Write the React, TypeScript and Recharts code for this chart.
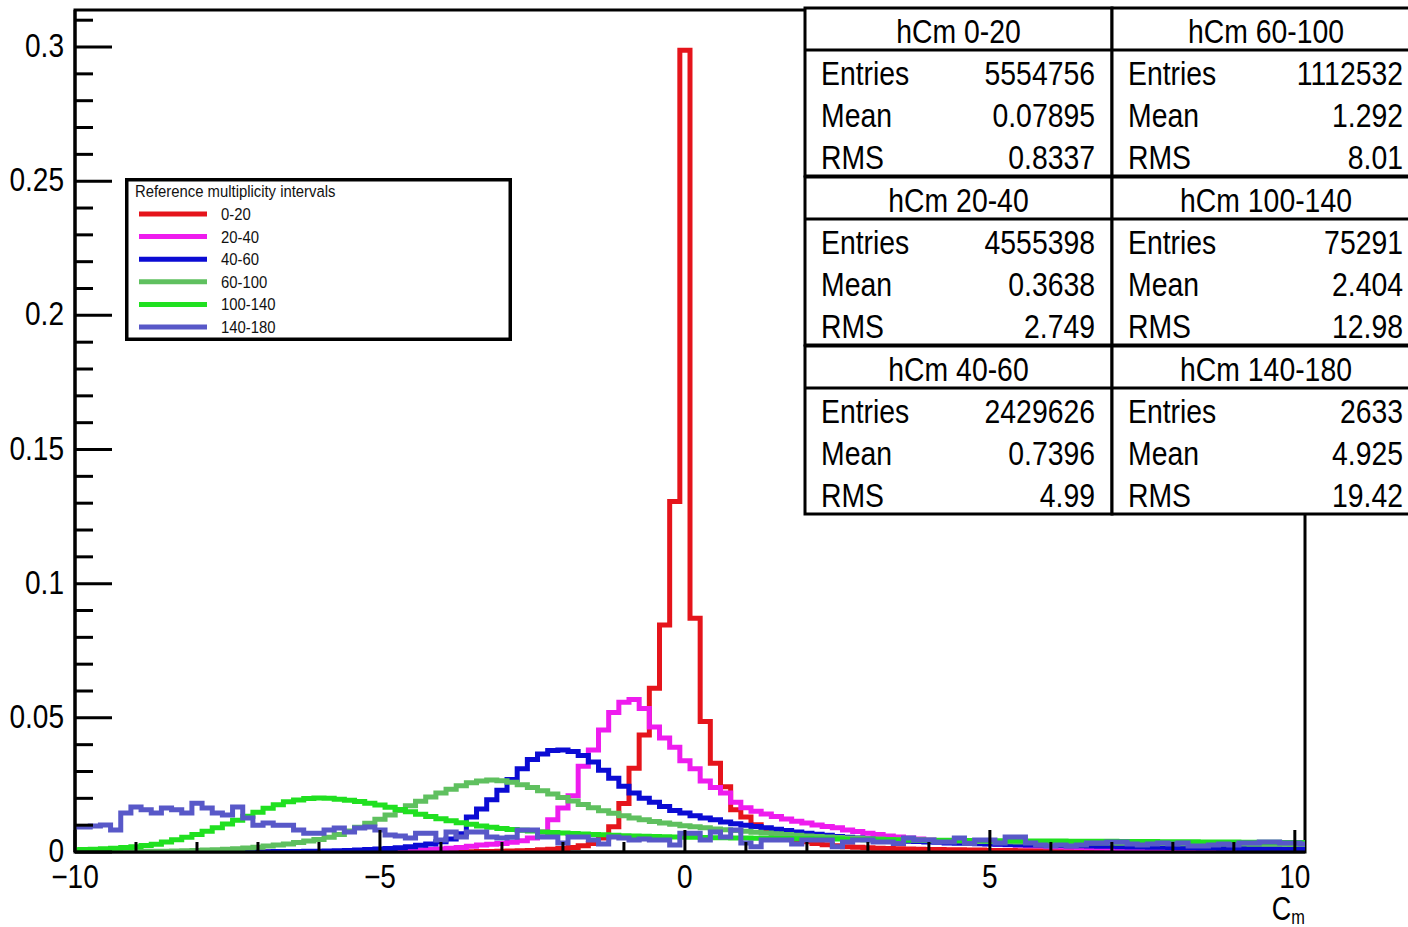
import { LineChart, Line, XAxis, YAxis, Legend, ReferenceArea, Label } from 'recharts';

// Cm distributions per reference multiplicity interval.
// One value per bin, bin width 1/6, first bin centred at -10.
const hCm0_20 = [
  0, 0, 0, 0, 0, 0, 0, 0, 0, 0,
  0, 0, 0, 0, 0, 0, 0, 0, 0, 0,
  0, 0, 0, 0, 0, 0, 0, 0, 0, 0,
  0, 0, 0, 0, 0, 0, 0, 0, 0, 0.0001,
  0.0002, 0.0002, 0.0003, 0.0004, 0.0005, 0.0006, 0.0008, 0.001, 0.0013, 0.0017,
  0.0023, 0.0032, 0.0052, 0.0094, 0.0181, 0.0312, 0.0436, 0.061, 0.0846, 0.1306,
  0.2988, 0.0871, 0.0486, 0.0331, 0.0243, 0.0157, 0.013, 0.0102, 0.0081, 0.0066,
  0.0054, 0.0045, 0.0038, 0.0032, 0.0027, 0.0023, 0.002, 0.0018, 0.0016, 0.0014,
  0.0013, 0.0012, 0.0011, 0.001, 0.0009, 0.0009, 0.0008, 0.0008, 0.0007, 0.0007,
  0.0006, 0.0006, 0.0006, 0.0005, 0.0005, 0.0005, 0.0005, 0.0004, 0.0004, 0.0004,
  0.0004, 0.0004, 0.0004, 0.0004, 0.0003, 0.0003, 0.0003, 0.0003, 0.0003, 0.0003,
  0.0003, 0.0003, 0.0003, 0.0003, 0.0002, 0.0002, 0.0002, 0.0002, 0.0002, 0.0002,
  0.0002, 0.0002,
];

const hCm20_40 = [
  0, 0, 0, 0, 0, 0, 0, 0, 0, 0,
  0, 0, 0, 0, 0, 0, 0, 0, 0, 0,
  0, 0, 0, 0, 0, 0, 0, 0, 0, 0.0001,
  0.0002, 0.0003, 0.0004, 0.0005, 0.0007, 0.0009, 0.0011, 0.0014, 0.0017, 0.0021,
  0.0026, 0.0029, 0.0032, 0.0036, 0.0042, 0.0052, 0.0075, 0.012, 0.0164, 0.021,
  0.032, 0.038, 0.0455, 0.052, 0.0558, 0.0568, 0.0535, 0.0466, 0.0425, 0.039,
  0.034, 0.031, 0.0265, 0.024, 0.022, 0.0185, 0.0165, 0.0152, 0.0142, 0.0132,
  0.0123, 0.0115, 0.0108, 0.0101, 0.0095, 0.009, 0.0082, 0.0076, 0.007, 0.0065,
  0.006, 0.0056, 0.0052, 0.0048, 0.0045, 0.0042, 0.004, 0.0037, 0.0035, 0.0033,
  0.0031, 0.0029, 0.0027, 0.0025, 0.0023, 0.0022, 0.002, 0.0019, 0.0018, 0.0017,
  0.0016, 0.0015, 0.0014, 0.0013, 0.0012, 0.0012, 0.0011, 0.001, 0.001, 0.0009,
  0.0009, 0.0008, 0.0008, 0.0007, 0.0007, 0.0007, 0.0006, 0.0006, 0.0006, 0.0005,
  0.0005, 0.0005,
];

const hCm40_60 = [
  0, 0, 0, 0, 0, 0, 0, 0, 0, 0,
  0, 0, 0, 0, 0, 0, 0, 0.0001, 0.0001, 0.0001,
  0.0002, 0.0002, 0.0002, 0.0003, 0.0003, 0.0004, 0.0005, 0.0006, 0.0007, 0.0009,
  0.0011, 0.0013, 0.0016, 0.002, 0.0025, 0.003, 0.0038, 0.0048, 0.0068, 0.013,
  0.016, 0.0195, 0.023, 0.027, 0.031, 0.0345, 0.0365, 0.0378, 0.038, 0.0375,
  0.036, 0.0335, 0.0305, 0.0275, 0.0245, 0.022, 0.02, 0.0185, 0.017, 0.0155,
  0.0145, 0.0135, 0.0127, 0.012, 0.0112, 0.0105, 0.01, 0.0095, 0.009, 0.0085,
  0.008, 0.0075, 0.007, 0.0066, 0.0062, 0.0058, 0.0055, 0.0052, 0.0049, 0.0046,
  0.0044, 0.0042, 0.004, 0.0039, 0.0037, 0.0036, 0.0034, 0.0033, 0.0032, 0.0031,
  0.003, 0.0029, 0.0028, 0.0027, 0.0026, 0.0026, 0.0025, 0.0024, 0.0023, 0.0023,
  0.0022, 0.0021, 0.0021, 0.002, 0.0019, 0.0019, 0.0018, 0.0018, 0.0017, 0.0016,
  0.0016, 0.0015, 0.0015, 0.0014, 0.0014, 0.0013, 0.0013, 0.0012, 0.0012, 0.0011,
  0.0011, 0.001,
];

const hCm60_100 = [
  0.0001, 0.0001, 0.0001, 0.0002, 0.0002, 0.0002, 0.0002, 0.0003, 0.0003, 0.0003,
  0.0004, 0.0005, 0.0006, 0.0007, 0.0008, 0.001, 0.0012, 0.0015, 0.0018, 0.0022,
  0.0026, 0.003, 0.0035, 0.0041, 0.0047, 0.0055, 0.0065, 0.0078, 0.0092, 0.0107,
  0.0122, 0.0138, 0.0155, 0.0172, 0.0189, 0.0205, 0.022, 0.0234, 0.0247, 0.0258,
  0.0265, 0.0268, 0.0266, 0.026, 0.0251, 0.024, 0.0228, 0.0216, 0.0203, 0.019,
  0.0177, 0.0165, 0.0154, 0.0144, 0.0135, 0.0127, 0.012, 0.0114, 0.0108, 0.0103,
  0.0098, 0.0094, 0.009, 0.0086, 0.0083, 0.008, 0.0077, 0.0074, 0.0071, 0.0068,
  0.0065, 0.0062, 0.006, 0.0058, 0.0056, 0.0054, 0.0052, 0.0051, 0.0049, 0.0048,
  0.0047, 0.0046, 0.0045, 0.0044, 0.0043, 0.0042, 0.0041, 0.0041, 0.004, 0.0039,
  0.0039, 0.0038, 0.0038, 0.0037, 0.0037, 0.0036, 0.0036, 0.0035, 0.0035, 0.0035,
  0.0034, 0.0034, 0.0034, 0.0033, 0.0033, 0.0033, 0.0032, 0.0032, 0.0032, 0.0031,
  0.0031, 0.0031, 0.003, 0.003, 0.003, 0.003, 0.0029, 0.0029, 0.0029, 0.0029,
  0.0028, 0.0028,
];

const hCm100_140 = [
  0.0008, 0.0009, 0.001, 0.0012, 0.0014, 0.0017, 0.002, 0.0024, 0.0029, 0.0037,
  0.0046, 0.0055, 0.0065, 0.0077, 0.009, 0.0104, 0.0118, 0.0133, 0.0148, 0.0163,
  0.0176, 0.0187, 0.0194, 0.0199, 0.0201, 0.02, 0.0197, 0.0193, 0.0188, 0.0182,
  0.0175, 0.0167, 0.0158, 0.015, 0.0141, 0.0132, 0.0124, 0.0116, 0.0109, 0.0103,
  0.0097, 0.0092, 0.0088, 0.0084, 0.0081, 0.0078, 0.0075, 0.0073, 0.0071, 0.0069,
  0.0067, 0.0065, 0.0064, 0.0062, 0.0061, 0.006, 0.0059, 0.0058, 0.0057, 0.0056,
  0.0055, 0.0055, 0.0054, 0.0053, 0.0053, 0.0052, 0.0052, 0.0051, 0.0051, 0.005,
  0.005, 0.0049, 0.0049, 0.0048, 0.0048, 0.0048, 0.0047, 0.0047, 0.0046, 0.0046,
  0.0046, 0.0045, 0.0045, 0.0045, 0.0044, 0.0044, 0.0044, 0.0043, 0.0043, 0.0043,
  0.0042, 0.0042, 0.0042, 0.0042, 0.0041, 0.0041, 0.0041, 0.0041, 0.004, 0.004,
  0.004, 0.004, 0.004, 0.0039, 0.0039, 0.0039, 0.0039, 0.0038, 0.0038, 0.0038,
  0.0038, 0.0037, 0.0037, 0.0037, 0.0037, 0.0036, 0.0036, 0.0036, 0.0036, 0.0035,
  0.0035, 0.0035,
];

const hCm140_180 = [
  0.0093, 0.0093, 0.0097, 0.0101, 0.0082, 0.0145, 0.0168, 0.0157, 0.0145, 0.0164,
  0.0157, 0.0145, 0.0182, 0.0164, 0.0145, 0.0138, 0.0168, 0.0127, 0.01, 0.0108,
  0.01, 0.01, 0.0082, 0.007, 0.007, 0.0082, 0.0089, 0.0075, 0.0089, 0.0093,
  0.0082, 0.0063, 0.006, 0.0052, 0.007, 0.007, 0.0045, 0.0075, 0.0056, 0.0075,
  0.0075, 0.0056, 0.0052, 0.0055, 0.0082, 0.0082, 0.0056, 0.0056, 0.0034, 0.0056,
  0.0056, 0.0045, 0.003, 0.0056, 0.0052, 0.0045, 0.0048, 0.0045, 0.0045, 0.0026,
  0.007, 0.007, 0.0045, 0.0075, 0.0056, 0.0082, 0.0034, 0.002, 0.0045, 0.0045,
  0.0045, 0.003, 0.0045, 0.0045, 0.0045, 0.002, 0.0037, 0.0045, 0.0045, 0.0037,
  0.0037, 0.0032, 0.0052, 0.0045, 0.0045, 0.0037, 0.0037, 0.0052, 0.0032, 0.0045,
  0.0045, 0.0034, 0.0056, 0.0056, 0.0034, 0.0026, 0.0022, 0.0026, 0.0022, 0.0026,
  0.0034, 0.0034, 0.0037, 0.0037, 0.003, 0.0026, 0.003, 0.0034, 0.003, 0.0034,
  0.0022, 0.0022, 0.0026, 0.003, 0.0026, 0.0034, 0.0034, 0.0037, 0.0037, 0.0034,
  0.0034, 0.003,
];

const seriesLabels = ['0-20', '20-40', '40-60', '60-100', '100-140', '140-180'];
const seriesValues = [hCm0_20, hCm20_40, hCm40_60, hCm60_100, hCm100_140, hCm140_180];
const seriesColors = ['#e5141b', '#ee1cee', '#0b0bd3', '#5fc05f', '#20e020', '#5858c8'];

// statistics boxes
const statEntries = [5554756, 4555398, 2429626, 1112532, 75291, 2633];
const statMeans = ['0.07895', '0.3638', '0.7396', '1.292', '2.404', '4.925'];
const statRms = ['0.8337', '2.749', '4.99', '8.01', '12.98', '19.42'];

const xTicks = [-10, -9, -8, -7, -6, -5, -4, -3, -2, -1, 0, 1, 2, 3, 4, 5, 6, 7, 8, 9, 10];
const xMajorTicks = [-10, -5, 0, 5, 10];
const yTicks = [
  0, 0.01, 0.02, 0.03, 0.04, 0.05, 0.06, 0.07, 0.08, 0.09, 0.1, 0.11, 0.12, 0.13, 0.14, 0.15,
  0.16, 0.17, 0.18, 0.19, 0.2, 0.21, 0.22, 0.23, 0.24, 0.25, 0.26, 0.27, 0.28, 0.29, 0.3, 0.31,
];
const yMajorTicks = [0, 0.05, 0.1, 0.15, 0.2, 0.25, 0.3];

const legendTitle = 'Reference multiplicity intervals';

const BIN_WIDTH = 1 / 6;
const FIRST_BIN = -60;
const X_MIN = -10;
const X_MAX = 61 / 6;
const Y_MAX = 0.3138;

const FONT = '"Liberation Sans", Arial, Helvetica, sans-serif';
const SQUEEZE = 0.85;
const TICK_GAP = 12; // tickSize + tickMargin

const seriesKeys = seriesLabels.map((_, i) => `h${i}`);

const chartData = hCm0_20.map((_, i) => {
  const row: Record<string, number> = { x: (FIRST_BIN + i) * BIN_WIDTH };
  seriesValues.forEach((vals, s) => {
    row[seriesKeys[s]] = vals[i];
  });
  return row;
});

const fmtX = (v: number) => (v < 0 ? `\u2212${-v}` : `${v}`);

function XTick(props: any) {
  const { x, y, payload } = props;
  const axisY = y - TICK_GAP;
  const major = xMajorTicks.includes(payload.value);
  return (
    <g>
      <line x1={x} x2={x} y1={axisY} y2={axisY - (major ? 22 : 10)} stroke="#000" strokeWidth={3} />
      {major && (
        <text
          transform={`translate(${x},${axisY + 36}) scale(${SQUEEZE},1)`}
          textAnchor="middle"
          fontSize={33}
          fontFamily={FONT}
          fill="#000"
        >
          {fmtX(payload.value)}
        </text>
      )}
    </g>
  );
}

function YTick(props: any) {
  const { x, y, payload } = props;
  const axisX = x + TICK_GAP;
  const major = yMajorTicks.includes(payload.value);
  return (
    <g>
      <line x1={axisX} x2={axisX + (major ? 37 : 18)} y1={y} y2={y} stroke="#000" strokeWidth={3} />
      {major && (
        <text
          transform={`translate(${x + 1},${y + 10}) scale(${SQUEEZE},1)`}
          textAnchor="end"
          fontSize={33}
          fontFamily={FONT}
          fill="#000"
        >
          {String(payload.value)}
        </text>
      )}
    </g>
  );
}

function AxisTitle(props: any) {
  const vb = props.viewBox;
  return (
    <text
      transform={`translate(${vb.x + vb.width},${vb.y + 68}) scale(0.82,1)`}
      textAnchor="end"
      fontSize={33}
      fontFamily={FONT}
      fill="#000"
    >
      C<tspan fontSize={20} dy={4}>m</tspan>
    </text>
  );
}

function LegendBox(props: any) {
  const payload = props.payload || [];
  const items = seriesLabels.map((label, i) => {
    const entry = payload.find((p: any) => p.value === label);
    return { label, color: entry ? entry.color : seriesColors[i] };
  });
  return (
    <svg width={387} height={163} style={{ display: 'block' }}>
      <rect x={1.75} y={1.75} width={383.5} height={159.5} fill="#fff" stroke="#000" strokeWidth={3.5} />
      <text
        transform={`translate(10,19) scale(0.9,1)`}
        fontSize={16.5}
        fontFamily={FONT}
        fill="#111"
      >
        {legendTitle}
      </text>
      {items.map((it, i) => {
        const cy = 36 + i * 22.6;
        return (
          <g key={it.label}>
            <line x1={14} x2={82} y1={cy} y2={cy} stroke={it.color} strokeWidth={5} />
            <text
              transform={`translate(96,${cy + 6}) scale(0.9,1)`}
              fontSize={16.5}
              fontFamily={FONT}
              fill="#111"
            >
              {it.label}
            </text>
          </g>
        );
      })}
    </svg>
  );
}

function StatsBoxes() {
  return (
    <svg
      width={1408}
      height={927}
      style={{ position: 'absolute', left: 0, top: 0, pointerEvents: 'none' }}
    >
      {seriesLabels.map((label, i) => {
        const col = Math.floor(i / 3);
        const row = i % 3;
        const left = col === 0 ? 805 : 1112;
        const right = col === 0 ? 1112 : 1420;
        const top = 8 + row * 169;
        const lines: [string, string][] = [
          ['Entries', String(statEntries[i])],
          ['Mean', statMeans[i]],
          ['RMS', statRms[i]],
        ];
        return (
          <g key={label} fontFamily={FONT} fontSize={33} fill="#000">
            <rect x={left} y={top} width={right - left} height={168} fill="#fff" stroke="#000" strokeWidth={3} />
            <line x1={left} x2={right} y1={top + 42} y2={top + 42} stroke="#000" strokeWidth={3} />
            <text transform={`translate(${(left + right) / 2},${top + 35}) scale(0.86,1)`} textAnchor="middle">
              {`hCm ${label}`}
            </text>
            {lines.map(([name, value], j) => {
              const base = top + 42 + 35 + j * 42;
              return (
                <g key={name}>
                  <text transform={`translate(${left + 16},${base}) scale(0.86,1)`}>{name}</text>
                  <text transform={`translate(${right - 17},${base}) scale(0.86,1)`} textAnchor="end">
                    {value}
                  </text>
                </g>
              );
            })}
          </g>
        );
      })}
    </svg>
  );
}

export default function App() {
  return (
    <div
      style={{
        position: 'absolute',
        left: 0,
        top: 0,
        width: 1408,
        height: 927,
        overflow: 'hidden',
        background: '#fff',
      }}
    >
      <LineChart
        width={1408}
        height={927}
        data={chartData}
        margin={{ top: 10, right: 103, bottom: 45, left: 15 }}
      >
        <ReferenceArea
          x1={X_MIN}
          x2={X_MAX}
          y1={0}
          y2={Y_MAX}
          fill="none"
          fillOpacity={0}
          stroke="#000"
          strokeWidth={3}
        />
        <XAxis
          type="number"
          dataKey="x"
          domain={[X_MIN, X_MAX]}
          ticks={xTicks}
          interval={0}
          allowDataOverflow
          height={30}
          tickSize={8}
          tickMargin={4}
          tickLine={false}
          axisLine={{ stroke: '#000', strokeWidth: 3 }}
          tick={(p: any) => <XTick {...p} />}
        >
          <Label content={(p: any) => <AxisTitle {...p} />} />
        </XAxis>
        <YAxis
          type="number"
          domain={[0, Y_MAX]}
          ticks={yTicks}
          interval={0}
          allowDataOverflow
          width={60}
          tickSize={8}
          tickMargin={4}
          tickLine={false}
          axisLine={{ stroke: '#000', strokeWidth: 3 }}
          tick={(p: any) => <YTick {...p} />}
        />
        {seriesKeys.map((key, i) => (
          <Line
            key={key}
            type="step"
            dataKey={key}
            name={seriesLabels[i]}
            stroke={seriesColors[i]}
            strokeWidth={5}
            dot={false}
            activeDot={false}
            isAnimationActive={false}
          />
        ))}
        <Legend
          layout="horizontal"
          verticalAlign="middle"
          align="center"
          width={387}
          height={163}
          wrapperStyle={{ left: 125, top: 178, width: 387, height: 163 }}
          content={(p: any) => <LegendBox {...p} />}
        />
      </LineChart>
      <StatsBoxes />
    </div>
  );
}
